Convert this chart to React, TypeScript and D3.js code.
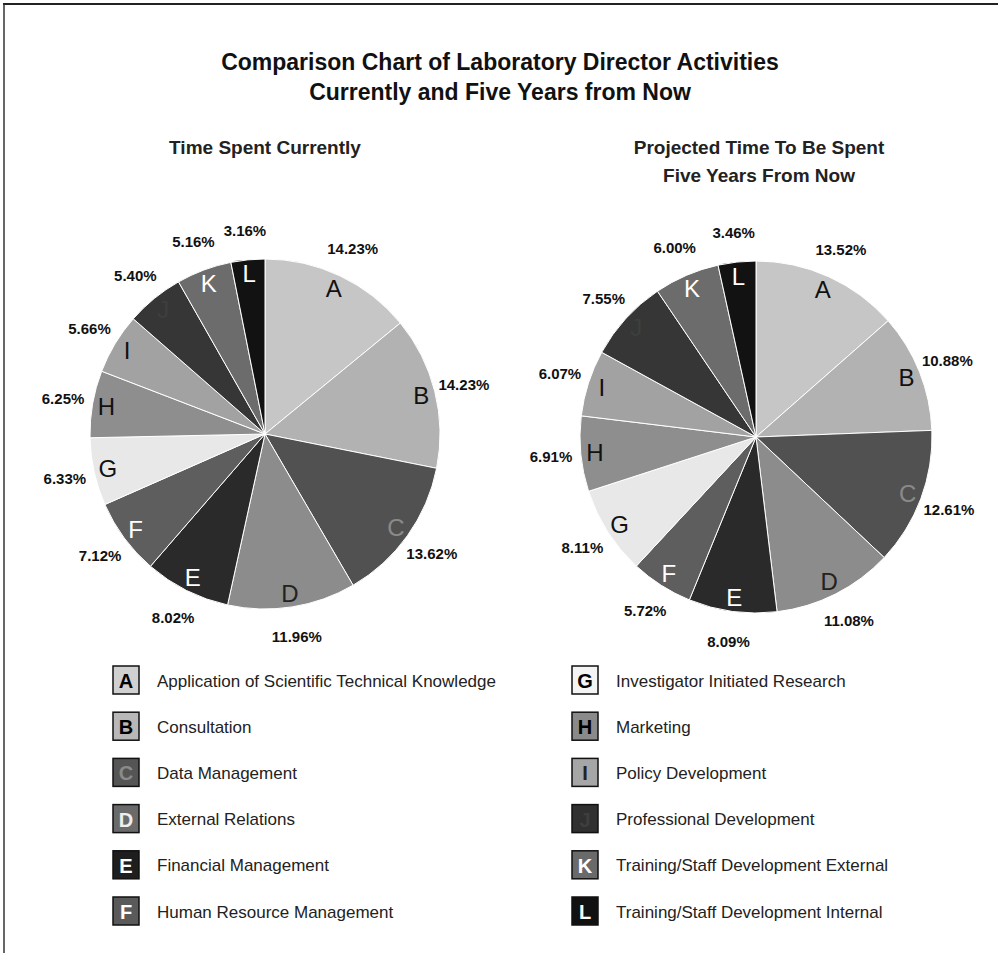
import React from "react";
import * as d3 from "d3";

const letters = ["A", "B", "C", "D", "E", "F", "G", "H", "I", "J", "K", "L"];
const activities = [
  "Application of Scientific Technical Knowledge",
  "Consultation",
  "Data Management",
  "External Relations",
  "Financial Management",
  "Human Resource Management",
  "Investigator Initiated Research",
  "Marketing",
  "Policy Development",
  "Professional Development",
  "Training/Staff Development External",
  "Training/Staff Development Internal",
];
const currentValues = [14.23, 14.23, 13.62, 11.96, 8.02, 7.12, 6.33, 6.25, 5.66, 5.4, 5.16, 3.16];
const projectedValues = [13.52, 10.88, 12.61, 11.08, 8.09, 5.72, 8.11, 6.91, 6.07, 7.55, 6.0, 3.46];

const sliceFills = ["#c6c6c6", "#b2b2b2", "#515151", "#8c8c8c", "#2a2a2a", "#5e5e5e", "#e8e8e8", "#8e8e8e", "#a2a2a2", "#363636", "#6c6c6c", "#121212"];
const pieLetterFills = ["#111", "#111", "#8a8a8a", "#222", "#fff", "#fff", "#111", "#111", "#111", "#3e3e3e", "#fff", "#fff"];
const legendFills = ["#d0d0d0", "#b8b8b8", "#555555", "#6a6a6a", "#1e1e1e", "#5a5a5a", "#f4f4f4", "#8a8a8a", "#a6a6a6", "#303030", "#6a6a6a", "#111111"];
const legendLetterFills = ["#000", "#000", "#8a8a8a", "#eee", "#fff", "#fff", "#000", "#000", "#222", "#3e3e3e", "#fff", "#fff"];

const W = 998;
const H = 953;
const FONT = "'Liberation Sans', Arial, Helvetica, sans-serif";

type PieProps = { cx: number; cy: number; r: number; values: number[] };

function Pie({ cx, cy, r, values }: PieProps) {
  const data = values.map((v, i) => ({ v, i }));
  const arcs = d3.pie<{ v: number; i: number }>().sort(null).value((d) => d.v)(data);
  const arcGen = d3.arc<d3.PieArcDatum<{ v: number; i: number }>>().innerRadius(0).outerRadius(r);
  const letterArc = d3.arc<d3.PieArcDatum<{ v: number; i: number }>>().innerRadius(r * 0.92).outerRadius(r * 0.92);
  const pctArc = d3.arc<d3.PieArcDatum<{ v: number; i: number }>>().innerRadius(r + 30).outerRadius(r + 30);
  return (
    <g transform={`translate(${cx},${cy})`}>
      {arcs.map((a) => (
        <path key={"s" + a.data.i} d={arcGen(a) || ""} fill={sliceFills[a.data.i]} stroke="#fff" strokeWidth={1} />
      ))}
      {arcs.map((a) => {
        const [x, y] = letterArc.centroid(a);
        return (
          <text key={"l" + a.data.i} x={x} y={y} textAnchor="middle" dominantBaseline="central" fontSize={24} fontFamily={FONT} fill={pieLetterFills[a.data.i]}>
            {letters[a.data.i]}
          </text>
        );
      })}
      {arcs.map((a) => {
        const [x, y] = pctArc.centroid(a);
        return (
          <text key={"p" + a.data.i} x={x} y={y} textAnchor="middle" dominantBaseline="central" fontSize={15} fontWeight="bold" fontFamily={FONT} fill="#111">
            {a.data.v.toFixed(2) + "%"}
          </text>
        );
      })}
    </g>
  );
}

export default function App() {
  const rowY = d3.scaleLinear().domain([0, 5]).range([680, 911]);
  const leftCol = letters.slice(0, 6).map((l, i) => i);
  const rightCol = letters.slice(6).map((l, i) => i + 6);
  const legendItem = (idx: number, row: number, bx: number) => (
    <g key={"lg" + idx} transform={`translate(${bx},${rowY(row)})`}>
      <rect x={0} y={-14} width={26} height={28} fill={legendFills[idx]} stroke="#111" strokeWidth={1.5} />
      <text x={13} y={1} textAnchor="middle" dominantBaseline="central" fontSize={20} fontWeight="bold" fontFamily={FONT} fill={legendLetterFills[idx]}>
        {letters[idx]}
      </text>
      <text x={44} y={1} dominantBaseline="central" fontSize={17} fontFamily={FONT} fill="#222">
        {activities[idx]}
      </text>
    </g>
  );
  return (
    <svg width={W} height={H} style={{ position: "absolute", left: 0, top: 0, background: "#fff" }}>
      <rect x={0} y={0} width={W} height={H} fill="#fff" />
      <line x1={3} y1={4} x2={W} y2={4} stroke="#222" strokeWidth={2} />
      <line x1={4} y1={4} x2={4} y2={H} stroke="#333" strokeWidth={1.5} />
      <text x={500} y={70} textAnchor="middle" fontSize={23} fontWeight="bold" fontFamily={FONT} fill="#111">
        Comparison Chart of Laboratory Director Activities
      </text>
      <text x={500} y={100} textAnchor="middle" fontSize={23} fontWeight="bold" fontFamily={FONT} fill="#111">
        Currently and Five Years from Now
      </text>
      <text x={265} y={154} textAnchor="middle" fontSize={19} fontWeight="bold" fontFamily={FONT} fill="#222">
        Time Spent Currently
      </text>
      <text x={759} y={154} textAnchor="middle" fontSize={19} fontWeight="bold" fontFamily={FONT} fill="#222">
        Projected Time To Be Spent
      </text>
      <text x={759} y={182} textAnchor="middle" fontSize={19} fontWeight="bold" fontFamily={FONT} fill="#222">
        Five Years From Now
      </text>
      <Pie cx={265} cy={434} r={175} values={currentValues} />
      <Pie cx={756} cy={437} r={176} values={projectedValues} />
      {leftCol.map((idx, row) => legendItem(idx, row, 113))}
      {rightCol.map((idx, row) => legendItem(idx, row, 572))}
    </svg>
  );
}
